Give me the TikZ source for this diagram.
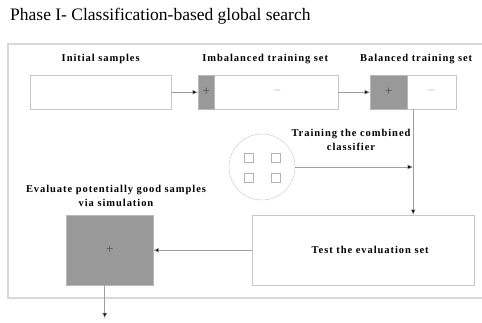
\documentclass[tikz,border=0pt]{standalone}
\usepackage{fontspec}
\setmainfont{Liberation Serif}
\newfontfamily\spacedfont[LetterSpace=9]{Liberation Serif}
\usetikzlibrary{arrows.meta,positioning}

\begin{document}
\begin{tikzpicture}[x=1pt, y=-1pt,
  box/.style={draw=gray!45, fill=white, minimum height=34pt, inner sep=0pt},
  posbox/.style={draw=gray!55, fill=gray!80, minimum height=34pt, inner sep=0pt,
    text=gray!60!black, font=\fontsize{13}{13}\selectfont},
  negsign/.style={text=gray!55, font=\fontsize{13}{13}\selectfont, inner sep=0pt},
  lbl/.style={font=\spacedfont\fontsize{10.5}{14}\selectfont\bfseries, align=center, inner sep=1pt},
  cell/.style={draw=gray!60, minimum size=9pt, inner sep=0pt},
  flow/.style={draw=gray!75, -{Latex[length=5.5pt,width=5pt,fill=black]}, line width=0.5pt}
]
  \useasboundingbox (0,0) rectangle (482,322);
  \node[anchor=west, inner sep=0pt, font=\fontsize{17.5}{19}\selectfont] (title) at (10,16)
    {Phase I- Classification-based global search};
  % frame of phase I
  \draw[gray!30, line width=1.6pt] (483,44) -- (8,44) -- (8,298) -- (483,298);

  % training sets
  \node[box, minimum width=141pt, anchor=north west] (init) at (30,75) {};
  \node[box, minimum width=140pt, anchor=north west] (imb) at (198,75) {};
  \node[posbox, minimum width=16pt, anchor=north west] (imbpos) at (imb.north west) {+};
  \node[negsign] (imbneg) at (277,92) {--};
  \node[box, minimum width=86pt, anchor=north west] (bal) at (370,75) {};
  \node[posbox, minimum width=37pt, anchor=north west] (balpos) at (bal.north west) {+};
  \node[negsign] (balneg) at (431,92) {--};

  \node[lbl, above=10pt of init] (initlbl) {Initial samples};
  \node[lbl, above=10pt of imb, xshift=-3pt] (imblbl) {Imbalanced training set};
  \node[lbl, above=10pt of bal, xshift=3pt] (ballbl) {Balanced training set};

  % combined classifier
  \node[circle, draw=gray!45, minimum size=66pt, inner sep=0pt] (clf) at (262,167) {};
  \foreach \i/\px/\py in {1/249/158, 2/276/158, 3/249/178, 4/276/178}
    \node[cell] (sq\i) at (\px,\py) {};
  \node[lbl] (clflbl) at (351,140) {Training the combined\\classifier};

  % evaluation
  \node[box, minimum width=222pt, minimum height=70pt, anchor=north west,
    font=\spacedfont\fontsize{10.5}{14}\selectfont\bfseries] (test) at (252,215) {\hspace{14pt}Test the evaluation set};
  \node[posbox, minimum width=87pt, minimum height=70pt, anchor=north west] (good) at (66,215) {+};
  \node[lbl] (goodlbl) at (116,196) {Evaluate potentially good samples\\via simulation};
  \coordinate[below=33pt of good.south, xshift=-5pt] (next);

  \draw[flow] (init.east) -- (imb.west);
  \draw[flow] (imb.east) -- (bal.west);
  \draw[flow] (bal.south) -- (test.north -| bal.south);
  \draw[flow] (clf.east) -- (clf.east -| bal.south);
  \draw[flow] (test.west) -- (good.east);
  \draw[flow] ([xshift=-5pt]good.south) -- (next);
\end{tikzpicture}
\end{document}
